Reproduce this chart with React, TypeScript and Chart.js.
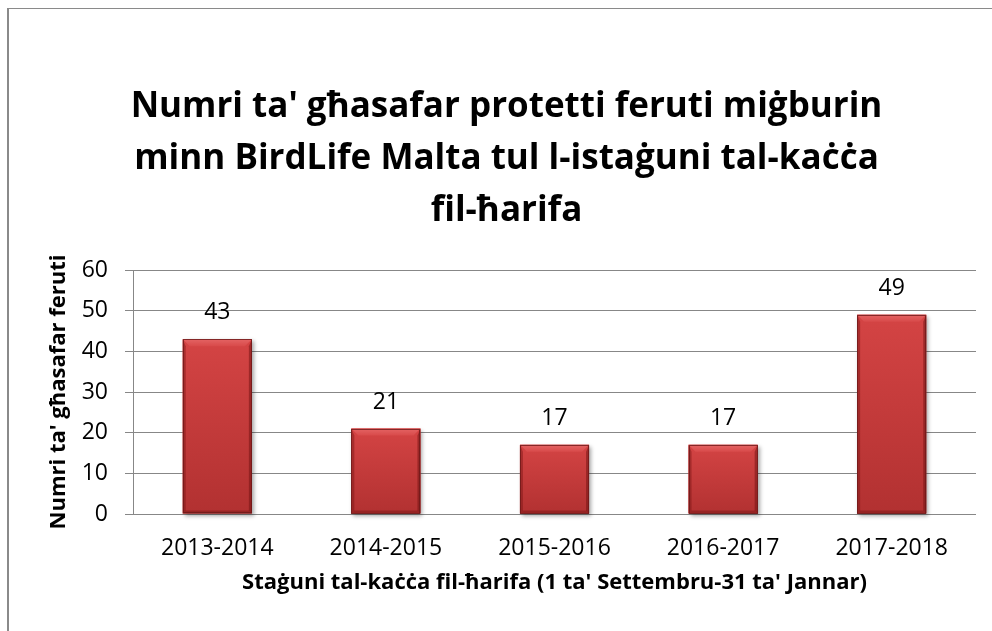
import React, { useEffect, useRef } from "react";
import { Chart, registerables } from "chart.js";

Chart.register(...registerables);

const categories = ["2013-2014", "2014-2015", "2015-2016", "2016-2017", "2017-2018"];
const birdCounts = [43, 21, 17, 17, 49];
const titleLines = [
  "Numri ta' għasafar protetti feruti miġburin",
  "minn BirdLife Malta tul l-istaġuni tal-kaċċa",
  "fil-ħarifa",
];
const yAxisTitle = "Numri ta' għasafar feruti";
const xAxisTitle = "Staġuni tal-kaċċa fil-ħarifa (1 ta' Settembru-31 ta' Jannar)";
const yMin = 0;
const yMax = 60;
const yStep = 10;

const FONT = "'Open Sans', Lato, sans-serif";
const GRID = "#878787";

const bevelPlugin = {
  id: "bevelBars",
  afterDatasetsDraw(chart: any) {
    const ctx = chart.ctx as CanvasRenderingContext2D;
    const meta = chart.getDatasetMeta(0);
    meta.data.forEach((bar: any, i: number) => {
      const { x, y, base, width } = bar.getProps(["x", "y", "base", "width"], true);
      const l = x - width / 2;
      const r = x + width / 2;
      const t = y;
      const b = base;
      const h = b - t;
      ctx.save();
      ctx.shadowColor = "rgba(0,0,0,0.35)";
      ctx.shadowBlur = 4;
      ctx.shadowOffsetX = 2;
      ctx.shadowOffsetY = 2;
      const g = ctx.createLinearGradient(0, t, 0, b);
      g.addColorStop(0, "#d44444");
      g.addColorStop(1, "#b23131");
      ctx.fillStyle = g;
      ctx.fillRect(l, t, width, h);
      ctx.restore();

      const tb = Math.min(7, h / 2);
      const sb = 3;
      ctx.save();
      ctx.beginPath();
      ctx.moveTo(l, t);
      ctx.lineTo(r, t);
      ctx.lineTo(r - tb, t + tb);
      ctx.lineTo(l + tb, t + tb);
      ctx.closePath();
      const tg = ctx.createLinearGradient(0, t, 0, t + tb);
      tg.addColorStop(0, "#e46464");
      tg.addColorStop(1, "#d84a4a");
      ctx.fillStyle = tg;
      ctx.fill();
      ctx.beginPath();
      ctx.moveTo(l, t);
      ctx.lineTo(l + sb, t + tb);
      ctx.lineTo(l + sb, b - sb);
      ctx.lineTo(l, b);
      ctx.closePath();
      ctx.fillStyle = "rgba(120,20,20,0.45)";
      ctx.fill();
      ctx.beginPath();
      ctx.moveTo(r, t);
      ctx.lineTo(r - sb, t + tb);
      ctx.lineTo(r - sb, b - sb);
      ctx.lineTo(r, b);
      ctx.closePath();
      ctx.fillStyle = "rgba(110,15,15,0.5)";
      ctx.fill();
      ctx.beginPath();
      ctx.moveTo(l, b);
      ctx.lineTo(l + sb, b - sb);
      ctx.lineTo(r - sb, b - sb);
      ctx.lineTo(r, b);
      ctx.closePath();
      ctx.fillStyle = "rgba(110,15,15,0.4)";
      ctx.fill();
      ctx.strokeStyle = "rgba(110,25,25,0.8)";
      ctx.lineWidth = 1;
      ctx.strokeRect(Math.round(l) + 0.5, Math.round(t) + 0.5, Math.round(width) - 1, Math.round(h) - 1);
      ctx.restore();

      ctx.save();
      ctx.fillStyle = "#000";
      ctx.font = `23px ${FONT}`;
      ctx.textAlign = "center";
      ctx.textBaseline = "alphabetic";
      ctx.fillText(String(birdCounts[i]), x, t - 20);
      ctx.restore();
    });
  },
};

export default function App() {
  const ref = useRef<HTMLCanvasElement>(null);
  useEffect(() => {
    const chart = new Chart(ref.current!, {
      type: "bar",
      data: {
        labels: categories,
        datasets: [
          {
            data: birdCounts,
            backgroundColor: "#c83b3b",
            borderWidth: 0,
            barPercentage: 0.41,
            categoryPercentage: 1,
          },
        ],
      },
      options: {
        responsive: false,
        animation: false,
        events: [],
        layout: { padding: { left: 29, right: 29, top: 0, bottom: 0 } },
        plugins: {
          legend: { display: false },
          tooltip: { enabled: false },
          title: {
            display: true,
            text: titleLines,
            color: "#000",
            font: { family: FONT, size: 35, weight: "bold", lineHeight: 52 / 35 },
            padding: { top: 72.5, bottom: 32.5 },
          },
        },
        scales: {
          x: {
            grid: { display: false, drawTicks: false, tickLength: 0 },
            border: { display: false },
            ticks: { color: "#000", font: { family: FONT, size: 23 }, padding: 21, maxRotation: 0 },
            title: {
              display: true,
              text: xAxisTitle,
              color: "#000",
              font: { family: FONT, size: 22, weight: "bold", lineHeight: 1.2 },
              padding: { top: 0, bottom: 27.3 },
            },
            afterFit(scale: any) {
              scale.height = 109;
            },
          },
          y: {
            min: yMin,
            max: yMax,
            ticks: { stepSize: yStep, color: "#000", font: { family: FONT, size: 23 }, padding: 17 },
            grid: { color: GRID, lineWidth: 1, drawTicks: true, tickLength: 8, tickColor: GRID },
            border: { display: true, color: GRID, width: 1 },
            title: {
              display: true,
              text: yAxisTitle,
              color: "#000",
              font: { family: FONT, size: 22, weight: "bold", lineHeight: 1.2 },
              padding: { top: 9, bottom: 0 },
            },
            afterFit(scale: any) {
              scale.width = 96;
            },
          },
        },
      },
      plugins: [bevelPlugin],
    } as any);
    return () => chart.destroy();
  }, []);

  return (
    <div
      style={{
        position: "fixed",
        left: 7,
        top: 8,
        width: 1000,
        height: 640,
        borderLeft: "2px solid #8a8a8a",
        borderTop: "1px solid #8a8a8a",
        overflow: "hidden",
        background: "#fff",
      }}
    >
      <canvas
        ref={ref}
        width={997}
        height={614}
        style={{ display: "block", width: 997, height: 614, marginLeft: -1 }}
      />
    </div>
  );
}
